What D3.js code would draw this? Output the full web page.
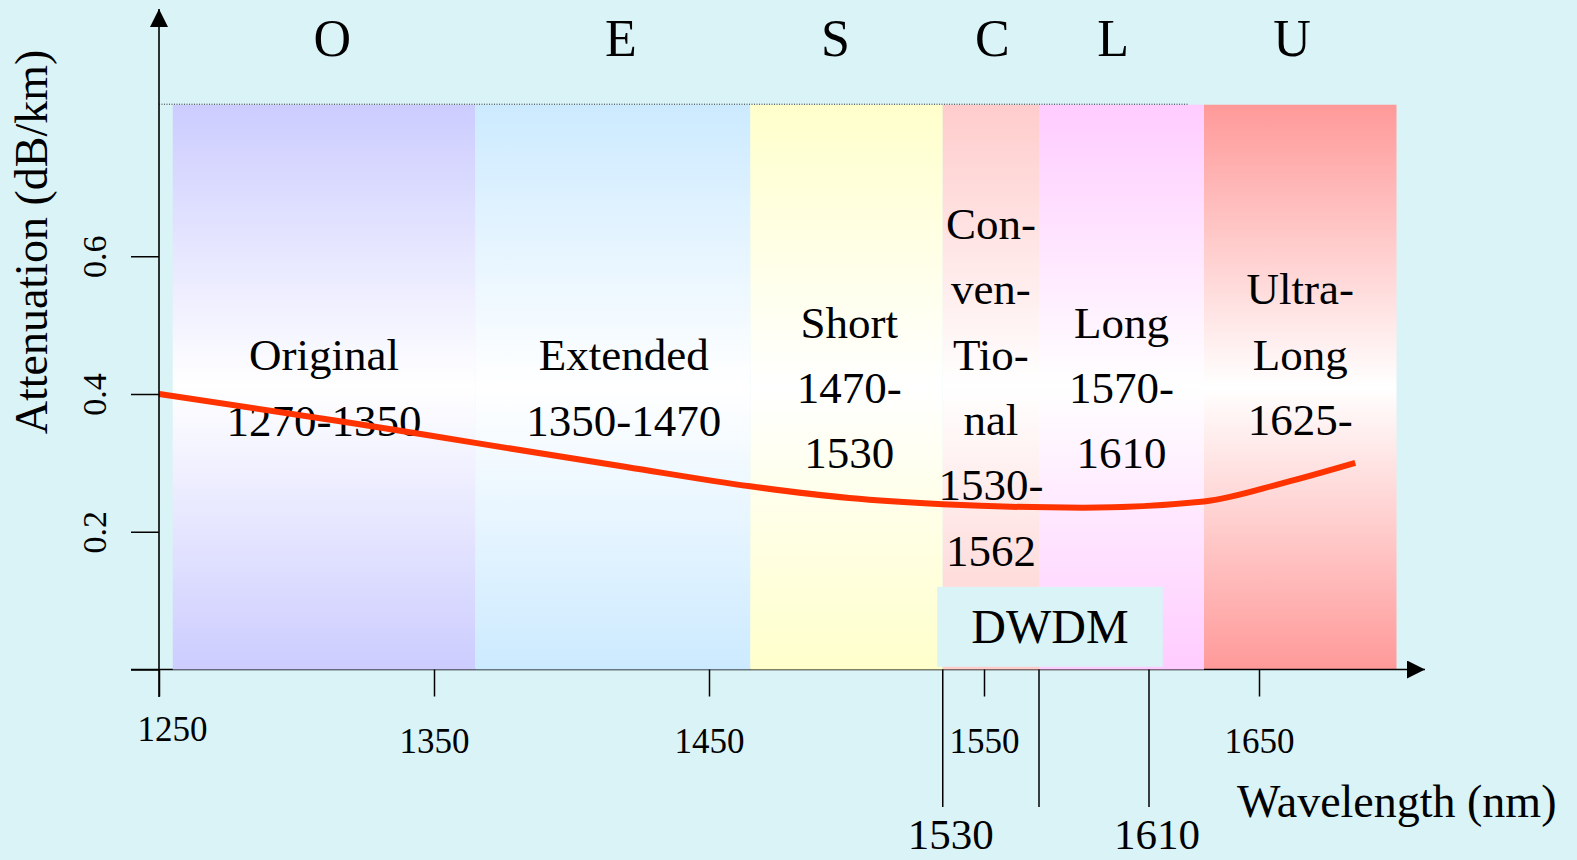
<!DOCTYPE html>
<html>
<head>
<meta charset="utf-8">
<script src="https://cdn.jsdelivr.net/npm/d3@7"></script>
<style>
  html, body { margin: 0; padding: 0; background: #d9f3f6; }
  svg { display: block; }
  text { font-family: "Liberation Serif", "Times New Roman", serif; fill: #000; }
</style>
</head>
<body>
<svg id="chart" width="1577" height="860"></svg>
<script>
// ---------- data ----------
const bandNames   = ["O", "E", "S", "C", "L", "U"];
const bandStart   = [1255, 1365, 1465, 1535, 1570, 1630];
const bandEnd     = [1365, 1465, 1535, 1570, 1630, 1700];
const bandColors  = ["#ccccff", "#cceaff", "#ffffcc", "#ffcccc", "#ffccff", "#ff9999"];
const bandLabels  = [
  ["Original", "1270-1350"],
  ["Extended", "1350-1470"],
  ["Short", "1470-", "1530"],
  ["Con-", "ven-", "Tio-", "nal", "1530-", "1562"],
  ["Long", "1570-", "1610"],
  ["Ultra-", "Long", "1625-"]
];
const letterAt    = [1313, 1418, 1496, 1553, 1597, 1662];
const labelAt     = [1310, 1419, 1501, 1552.5, 1600, 1665];
const labelLevel  = [0.387, 0.387, 0.387, 0.388, 0.387, 0.435];
const bandTop     = 0.82;

const curveWl  = [1250, 1320, 1365, 1420, 1465, 1501, 1535, 1586, 1630, 1659, 1685];
const curveAtt = [0.400, 0.358, 0.329, 0.294, 0.266, 0.249, 0.240, 0.235, 0.244, 0.271, 0.300];

const xTicks = [1250, 1350, 1450, 1550, 1650];
const yTicks = [0, 0.2, 0.4, 0.6];
const markerWl     = [1535, 1570, 1610];
const markerLabels = ["1530", "", "1610"];
const dwdmRange    = [1533, 1615];
const dwdmLevel    = [0.004, 0.12];

// ---------- layout ----------
const svg = d3.select("#chart");
const x = d3.scaleLinear().domain([1250, 1650]).range([159, 1259]);
const y = d3.scaleLinear().domain([0, 0.6]).range([669.5, 256.25]);
const bg = "#d9f3f6";

svg.append("rect").attr("width", 1577).attr("height", 860).attr("fill", bg);

const defs = svg.append("defs");
bandColors.forEach((c, i) => {
  const g = defs.append("linearGradient").attr("id", "g" + i)
    .attr("x1", 0).attr("y1", 0).attr("x2", 0).attr("y2", 1);
  g.append("stop").attr("offset", "0%").attr("stop-color", c);
  g.append("stop").attr("offset", "50%").attr("stop-color", "#ffffff");
  g.append("stop").attr("offset", "100%").attr("stop-color", c);
});
const arrowDef = defs.append("marker").attr("id", "arrow")
  .attr("viewBox", "0 0 10 10").attr("refX", 10).attr("refY", 5)
  .attr("markerWidth", 18).attr("markerHeight", 18)
  .attr("markerUnits", "userSpaceOnUse").attr("orient", "auto");
arrowDef.append("path").attr("d", "M0,0 L10,5 L0,10 Z").attr("fill", "#000");

const bands = bandNames.map((n, i) => ({
  name: n, s: bandStart[i], e: bandEnd[i], i: i,
  lines: bandLabels[i], at: labelAt[i], lvl: labelLevel[i], letter: letterAt[i]
}));

function drawBand(sel) {
  sel.append("rect")
    .attr("x", d => x(d.s))
    .attr("y", y(bandTop))
    .attr("width", d => x(d.e) - x(d.s))
    .attr("height", y(0) - y(bandTop))
    .attr("fill", d => "url(#g" + d.i + ")");
}

// U band sits behind the x axis line
svg.append("g").selectAll("g").data(bands.filter(d => d.name === "U")).join("g").call(drawBand);

// x axis line with arrow
svg.append("line")
  .attr("x1", 131).attr("x2", 1425)
  .attr("y1", y(0)).attr("y2", y(0))
  .attr("stroke", "#000").attr("stroke-width", 1.6)
  .attr("marker-end", "url(#arrow)");

// other bands cover the axis line
svg.append("g").selectAll("g").data(bands.filter(d => d.name !== "U")).join("g").call(drawBand);

// dotted top line
svg.append("line")
  .attr("x1", x(1250)).attr("x2", x(1624))
  .attr("y1", y(bandTop) - 0.5).attr("y2", y(bandTop) - 0.5)
  .attr("stroke", "#333").attr("stroke-width", 1)
  .attr("stroke-dasharray", "1,1.5");

// band letters on top
svg.append("g").selectAll("text").data(bands).join("text")
  .attr("x", d => x(d.letter)).attr("y", 56)
  .attr("text-anchor", "middle").attr("font-size", 52)
  .text(d => d.name);

// band descriptions
const lineH = 65.4;
const lbl = svg.append("g").selectAll("text").data(bands).join("text")
  .attr("text-anchor", "middle").attr("font-size", 45);
lbl.each(function (d) {
  const t = d3.select(this);
  const mid = y(d.lvl);
  const n = d.lines.length;
  d.lines.forEach((s, k) => {
    t.append("tspan")
      .attr("x", x(d.at))
      .attr("y", mid + (k - (n - 1) / 2) * lineH)
      .text(s);
  });
});

// attenuation curve
const pts = curveWl.map((w, i) => [w, curveAtt[i]]);
svg.append("path")
  .datum(pts)
  .attr("d", d3.line().x(d => x(d[0])).y(d => y(d[1])).curve(d3.curveMonotoneX))
  .attr("fill", "none").attr("stroke", "#ff3300").attr("stroke-width", 6);

// DWDM box
svg.append("rect")
  .attr("x", x(dwdmRange[0])).attr("y", y(dwdmLevel[1]))
  .attr("width", x(dwdmRange[1]) - x(dwdmRange[0]))
  .attr("height", y(dwdmLevel[0]) - y(dwdmLevel[1]))
  .attr("fill", bg);
svg.append("text")
  .attr("x", (x(dwdmRange[0]) + x(dwdmRange[1])) / 2)
  .attr("y", 643)
  .attr("text-anchor", "middle").attr("font-size", 48)
  .text("DWDM");

// y axis line with arrow
svg.append("line")
  .attr("x1", x(1250)).attr("x2", x(1250))
  .attr("y1", 697).attr("y2", 9)
  .attr("stroke", "#000").attr("stroke-width", 1.6)
  .attr("marker-end", "url(#arrow)");

// y axis ticks
const yAxis = d3.axisLeft(y).tickValues(yTicks).tickSize(28).tickSizeOuter(0)
  .tickFormat(d => d === 0 ? "" : d3.format(".1f")(d));
const yg = svg.append("g").attr("transform", `translate(${x(1250)},0)`).call(yAxis);
yg.select(".domain").remove();
yg.selectAll(".tick line").attr("stroke", "#000").attr("stroke-width", 1.5);
yg.selectAll(".tick text")
  .attr("font-family", '"Liberation Serif", serif').attr("font-size", 34).attr("fill", "#000")
  .attr("x", null).attr("dy", null)
  .attr("text-anchor", "middle")
  .attr("transform", `translate(${106 - x(1250)},0) rotate(-90)`);

// x axis ticks
const xAxis = d3.axisBottom(x).tickValues(xTicks).tickSize(27).tickSizeOuter(0)
  .tickFormat(d3.format("d"));
const xg = svg.append("g").attr("transform", `translate(0,${y(0)})`).call(xAxis);
xg.select(".domain").remove();
xg.selectAll(".tick line").attr("stroke", "#000").attr("stroke-width", 1.5);
xg.selectAll(".tick text")
  .attr("font-family", '"Liberation Serif", serif').attr("font-size", 35).attr("fill", "#000")
  .attr("dy", null)
  .attr("y", d => d === 1250 ? 71.5 : 83.5)
  .attr("x", d => d === 1250 ? 13 : 0);

// long marker lines below axis
const mk = svg.append("g").selectAll("g").data(markerWl.map((w, i) => ({ w, l: markerLabels[i] }))).join("g");
mk.append("line")
  .attr("x1", d => x(d.w)).attr("x2", d => x(d.w))
  .attr("y1", y(0)).attr("y2", 807)
  .attr("stroke", "#000").attr("stroke-width", 1.5);
mk.append("text")
  .attr("x", d => x(d.w) + 8).attr("y", 849)
  .attr("text-anchor", "middle").attr("font-size", 43)
  .text(d => d.l);

// axis titles
svg.append("text")
  .attr("x", 1237).attr("y", 817)
  .attr("font-size", 46)
  .text("Wavelength (nm)");
svg.append("text")
  .attr("transform", "translate(47,242) rotate(-90)")
  .attr("text-anchor", "middle").attr("font-size", 46)
  .text("Attenuation (dB/km)");
</script>
</body>
</html>
